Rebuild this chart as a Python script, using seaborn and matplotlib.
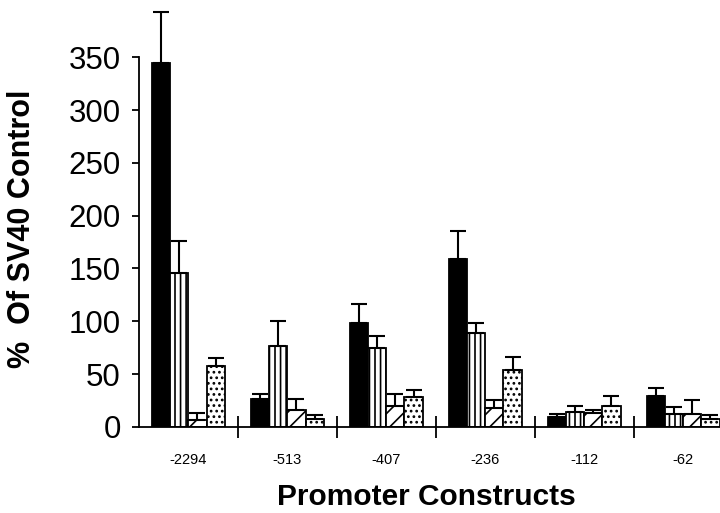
import matplotlib
matplotlib.use("Agg")
import matplotlib.pyplot as plt
import seaborn as sns
import pandas as pd
import numpy as np

# Data
constructs = ['-2294', '-513', '-407', '-236', '-112', '-62']
series = ['A', 'B', 'C', 'D']
vals_a = [345, 26, 98, 159, 9.5, 29]
err_a = [48, 5.5, 18, 26.5, 2.5, 7.5]
vals_b = [146, 77, 75, 89, 14, 12]
err_b = [30, 23, 11, 9, 5.5, 7]
vals_c = [6, 16, 20, 18, 13, 12]
err_c = [7, 10, 11, 7, 2.5, 13.5]
vals_d = [58, 7, 28, 54, 20, 7]
err_d = [7, 4, 6.5, 12.5, 9, 4]

sns.set_theme(style="white")
plt.rcParams['font.family'] = ['Liberation Sans', 'DejaVu Sans']
plt.rcParams['hatch.linewidth'] = 1.2
plt.rcParams['text.color'] = 'black'
plt.rcParams['axes.labelcolor'] = 'black'
plt.rcParams['xtick.color'] = 'black'
plt.rcParams['ytick.color'] = 'black'

rows = []
for s, v, e in zip(series, [vals_a, vals_b, vals_c, vals_d], [err_a, err_b, err_c, err_d]):
    for c, vv, ee in zip(constructs, v, e):
        rows.append({'construct': c, 'series': s, 'value': vv, 'err': ee})
df = pd.DataFrame(rows)

fig = plt.figure(figsize=(7.2, 5.13), dpi=100)
ax = fig.add_axes([0.193, 0.168, 0.807, 0.823])

sns.barplot(data=df, x='construct', y='value', hue='series', order=constructs,
            hue_order=series, width=0.73, errorbar=None, legend=False,
            palette=['black', 'white', 'white', 'white'],
            edgecolor='black', linewidth=1.3, saturation=1, ax=ax)

hatches = {'A': '', 'B': '|||', 'C': '//', 'D': '...'}
for container, s in zip(ax.containers, series):
    sub = df[df['series'] == s].set_index('construct').loc[constructs]
    xs = []
    for bar in container:
        bar.set_hatch(hatches[s])
        xs.append(bar.get_x() + bar.get_width() / 2)
    ax.errorbar(xs, sub['value'], yerr=[np.zeros(len(xs)), sub['err']],
                fmt='none', ecolor='black', elinewidth=1.5, capsize=5.5,
                capthick=1.5, zorder=1)

ax.set_xlim(-0.5, 5.37)
ax.set_ylim(0, 400)
ax.spines['top'].set_visible(False)
ax.spines['right'].set_visible(False)
ax.spines['left'].set_bounds(0, 350)
for sp in ['left', 'bottom']:
    ax.spines[sp].set_linewidth(1.3)
    ax.spines[sp].set_color('black')

ax.set_yticks(range(0, 351, 50))
ax.tick_params(axis='y', which='major', direction='out', length=5, width=1.3,
               color='black', labelsize=22.5, pad=8, left=True)

ax.set_xticks([0.5, 1.5, 2.5, 3.5, 4.5])
ax.set_xticklabels([])
ax.set_xticks(range(len(constructs)), minor=True)
ax.set_xticklabels(constructs, minor=True)
ax.tick_params(axis='x', which='major', direction='inout', length=16, width=1.3,
               color='black', bottom=True)
ax.tick_params(axis='x', which='minor', length=0, labelsize=10.5, pad=19)

ax.set_ylabel('%  Of SV40 Control', fontsize=22, fontweight='bold')
ax.set_xlabel('Promoter Constructs', fontsize=21.5, fontweight='bold')
ax.yaxis.set_label_coords(-0.176, 0.468)
ax.xaxis.set_label_coords(0.494, -0.132)

fig.savefig('out.png', dpi=100)
